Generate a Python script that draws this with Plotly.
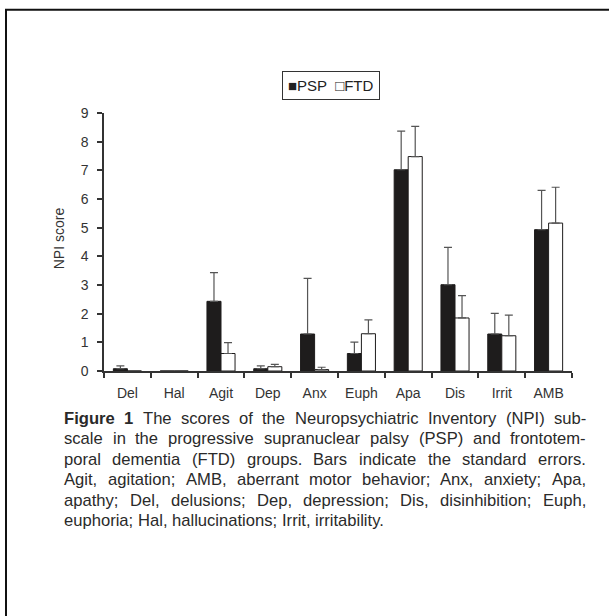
import plotly.graph_objects as go

categories = ["Del", "Hal", "Agit", "Dep", "Anx", "Euph", "Apa", "Dis", "Irrit", "AMB"]
psp_mean = [0.08, 0.0, 2.43, 0.08, 1.29, 0.61, 7.02, 3.01, 1.29, 4.93]
psp_se = [0.10, 0.0, 1.00, 0.10, 1.94, 0.40, 1.35, 1.30, 0.72, 1.37]
ftd_mean = [0.0, 0.0, 0.61, 0.15, 0.05, 1.30, 7.48, 1.85, 1.23, 5.16]
ftd_se = [0.0, 0.0, 0.38, 0.08, 0.08, 0.48, 1.05, 0.78, 0.72, 1.25]
y_ticks = [0, 1, 2, 3, 4, 5, 6, 7, 8, 9]

caption_lines = [
    "Figure 1 The scores of the Neuropsychiatric Inventory (NPI) sub-",
    "scale in the progressive supranuclear palsy (PSP) and frontotem-",
    "poral dementia (FTD) groups. Bars indicate the standard errors.",
    "Agit, agitation; AMB, aberrant motor behavior; Anx, anxiety; Apa,",
    "apathy; Del, delusions; Dep, depression; Dis, disinhibition; Euph,",
    "euphoria; Hal, hallucinations; Irrit, irritability.",
]
bold_words = 2  # "Figure 1" is bold in the first line

W, H = 609, 616
L, R, T, B = 104, 572, 112.7, 370.7

fig = go.Figure()
fig.add_trace(go.Bar(
    x=categories, y=psp_mean, name="PSP",
    marker=dict(color="#1e1c1c", line=dict(color="#1e1c1c", width=1)),
    error_y=dict(type="data", array=psp_se, arrayminus=[0]*len(psp_se), symmetric=False,
                 color="#555555", thickness=1.2, width=4),
))
fig.add_trace(go.Bar(
    x=categories, y=ftd_mean, name="FTD",
    marker=dict(color="white", line=dict(color="#1e1c1c", width=1)),
    error_y=dict(type="data", array=ftd_se, arrayminus=[0]*len(ftd_se), symmetric=False,
                 color="#555555", thickness=1.2, width=4),
))

font_family = "Liberation Sans, Arial, sans-serif"

def px_x(px):
    return (px - L) / (R - L)

def px_y(py):
    return (B - py) / (B - T)

# Arial / Liberation Sans advance widths (per 1000 em)
AW = {' ': 278, ',': 278, ';': 278, '.': 278, '-': 333, '(': 333, ')': 333, '1': 556,
      'A': 667, 'B': 667, 'D': 722, 'E': 667, 'F': 611, 'H': 722, 'I': 278, 'M': 833,
      'N': 722, 'P': 667, 'S': 667, 'T': 611, 'x': 500,
      'a': 556, 'b': 556, 'c': 500, 'd': 556, 'e': 556, 'f': 278, 'g': 556, 'h': 556,
      'i': 222, 'j': 222, 'k': 500, 'l': 222, 'm': 833, 'n': 556, 'o': 556, 'p': 556,
      'q': 556, 'r': 333, 's': 500, 't': 278, 'u': 556, 'v': 500, 'w': 722, 'y': 500, 'z': 500}
ABW = {'F': 611, 'i': 278, 'g': 611, 'u': 611, 'r': 389, 'e': 556, '1': 556, ' ': 278}

def text_width(s, size, bold=False):
    table = ABW if bold else AW
    return sum(table.get(ch, AW.get(ch, 556)) for ch in s) * size / 1000.0

annotations = []
# legend box
annotations.append(dict(
    text="■PSP  □FTD", xref="paper", yref="paper", x=px_x(331), y=px_y(85),
    xanchor="center", yanchor="middle", showarrow=False,
    font=dict(family=font_family, size=15, color="#222"),
    bordercolor="#333", borderwidth=1, borderpad=5, bgcolor="white",
))
# y axis title
annotations.append(dict(
    text="NPI score", xref="paper", yref="paper", x=px_x(59), y=px_y(238),
    xanchor="center", yanchor="middle", showarrow=False, textangle=-90,
    font=dict(family=font_family, size=14, color="#333"),
))
# caption, justified between left and right edges (last line left-aligned)
cap_size = 16.6
cap_left, cap_right = 62, 584
cap_top, cap_step = 418, 20.5
for i, line in enumerate(caption_lines):
    words = line.split(" ")
    bolds = [i == 0 and k < bold_words for k in range(len(words))]
    widths = [text_width(w, cap_size, b) for w, b in zip(words, bolds)]
    last = i == len(caption_lines) - 1
    if last:
        gap = text_width(" ", cap_size)
    else:
        gap = (cap_right - cap_left - sum(widths)) / (len(words) - 1)
    xpos = cap_left
    for w, wd, b in zip(words, widths, bolds):
        annotations.append(dict(
            text=f"<b>{w}</b>" if b else w, xref="paper", yref="paper",
            x=px_x(xpos), y=px_y(cap_top + i * cap_step),
            xanchor="left", yanchor="middle", showarrow=False, align="left",
            font=dict(family=font_family, size=cap_size, color="#2a2a2a"),
        ))
        xpos += wd + gap

fig.update_layout(
    width=W, height=H,
    margin=dict(l=L, r=W - R, t=T, b=H - B, pad=0),
    paper_bgcolor="white", plot_bgcolor="white",
    barmode="group", bargap=0.4, bargroupgap=0,
    showlegend=False,
    font=dict(family=font_family, size=12, color="#333"),
    xaxis=dict(
        showline=True, linecolor="#333", linewidth=1.5,
        ticks="outside", tickson="boundaries", ticklen=5, tickcolor="#333", tickwidth=1.5,
        tickfont=dict(size=14, color="#333"), ticklabelstandoff=8,
        showgrid=False, zeroline=False,
    ),
    yaxis=dict(
        range=[0, 9], tickvals=y_ticks, showline=True, linecolor="#333", linewidth=1.5,
        ticks="outside", ticklen=5, tickcolor="#333", tickwidth=1.5,
        tickfont=dict(size=14, color="#333"), ticklabelstandoff=6,
        showgrid=False, zeroline=False,
    ),
    annotations=annotations,
    shapes=[
        dict(type="line", xref="paper", yref="paper", x0=px_x(6), x1=px_x(6),
             y0=px_y(9), y1=px_y(H + 5), line=dict(color="#111", width=2)),
        dict(type="line", xref="paper", yref="paper", x0=px_x(5), x1=px_x(W + 5),
             y0=px_y(9.5), y1=px_y(9.5), line=dict(color="#111", width=2)),
    ],
)

fig.write_html("out.html")
